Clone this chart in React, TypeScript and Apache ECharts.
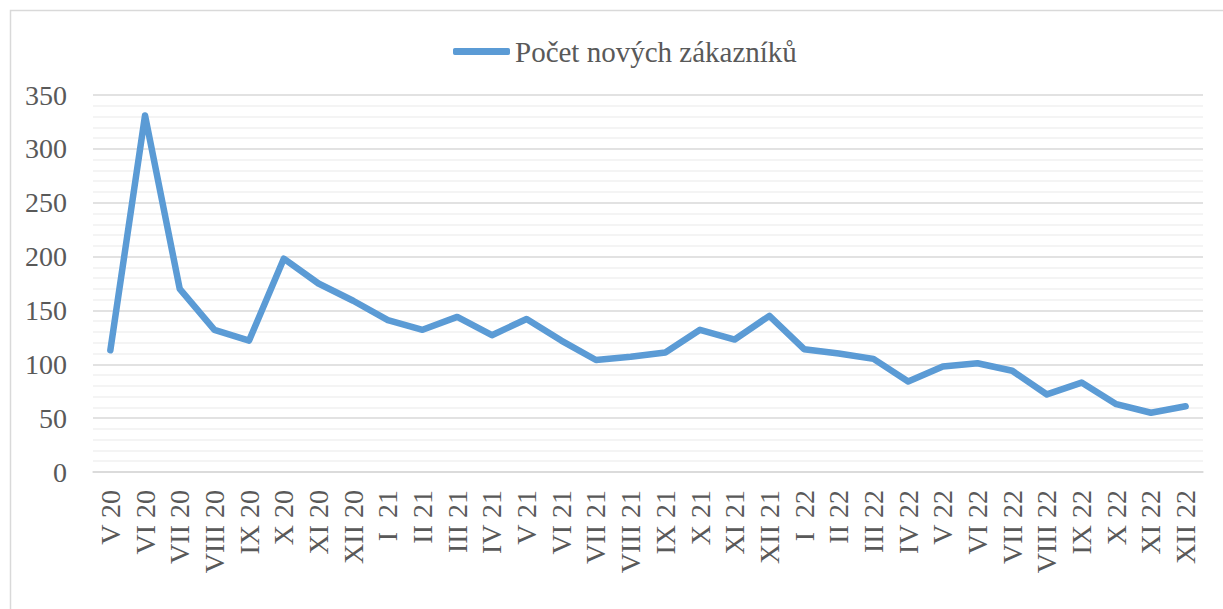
import React, { useEffect, useRef } from "react";
import * as echarts from "echarts";

const categories = [
  "V 20", "VI 20", "VII 20", "VIII 20", "IX 20", "X 20", "XI 20", "XII 20",
  "I  21", "II 21", "III 21", "IV 21", "V 21", "VI 21", "VII 21", "VIII 21", "IX 21", "X 21", "XI 21", "XII 21",
  "I  22", "II 22", "III 22", "IV 22", "V 22", "VI 22", "VII 22", "VIII 22", "IX 22", "X 22", "XI 22", "XII 22",
];
const seriesName = "Počet nových zákazníků";
const values = [
  113, 331, 170, 132, 122, 198, 175, 159,
  141, 132, 144, 127, 142, 122, 104, 107, 111, 132, 123, 145,
  114, 110, 105, 84, 98, 101, 94, 72, 83, 63, 55, 61,
];

export default function App() {
  const ref = useRef<HTMLDivElement>(null);
  useEffect(() => {
    if (!ref.current) return;
    const chart = echarts.init(ref.current, undefined, { renderer: "svg" });
    const font = "Liberation Serif";
    chart.setOption({
      animation: false,
      textStyle: { fontFamily: font },
      graphic: [
        {
          type: "rect",
          shape: { x: 10.5, y: 10.5, width: 1300, height: 700 },
          style: { fill: "none", stroke: "#d9d9d9", lineWidth: 1.5 },
          silent: true,
        },
      ],
      legend: {
        left: 448,
        top: 32,
        icon: "roundRect",
        itemWidth: 57,
        itemHeight: 7,
        textStyle: { fontFamily: font, fontSize: 29, color: "#595959" },
        data: [seriesName],
      },
      grid: { left: 93, right: 20, top: 95, bottom: 137, containLabel: false },
      xAxis: {
        type: "category",
        data: categories,
        boundaryGap: true,
        axisLine: { show: true, lineStyle: { color: "#d9d9d9", width: 1.5 } },
        axisTick: { show: false },
        axisLabel: {
          rotate: 90,
          interval: 0,
          margin: 18,
          fontFamily: font,
          fontSize: 28,
          color: "#595959",
        },
      },
      yAxis: {
        type: "value",
        min: 0,
        max: 350,
        interval: 50,
        axisLine: { show: false },
        axisTick: { show: false },
        axisLabel: { margin: 26, fontFamily: font, fontSize: 28, color: "#595959" },
        splitLine: { show: true, lineStyle: { color: "#d9d9d9", width: 1.5 } },
        minorTick: { show: false, splitNumber: 5 },
        minorSplitLine: { show: true, lineStyle: { color: "#f0f0f0", width: 1.5 } },
      },
      series: [
        {
          name: seriesName,
          type: "line",
          data: values,
          symbol: "none",
          lineStyle: { color: "#5b9bd5", width: 6.5, cap: "round", join: "round" },
          itemStyle: { color: "#5b9bd5" },
        },
      ],
    });
    return () => chart.dispose();
  }, []);
  return (
    <div
      ref={ref}
      style={{ position: "fixed", left: 0, top: 0, width: 1223, height: 609, background: "#fff" }}
    />
  );
}
